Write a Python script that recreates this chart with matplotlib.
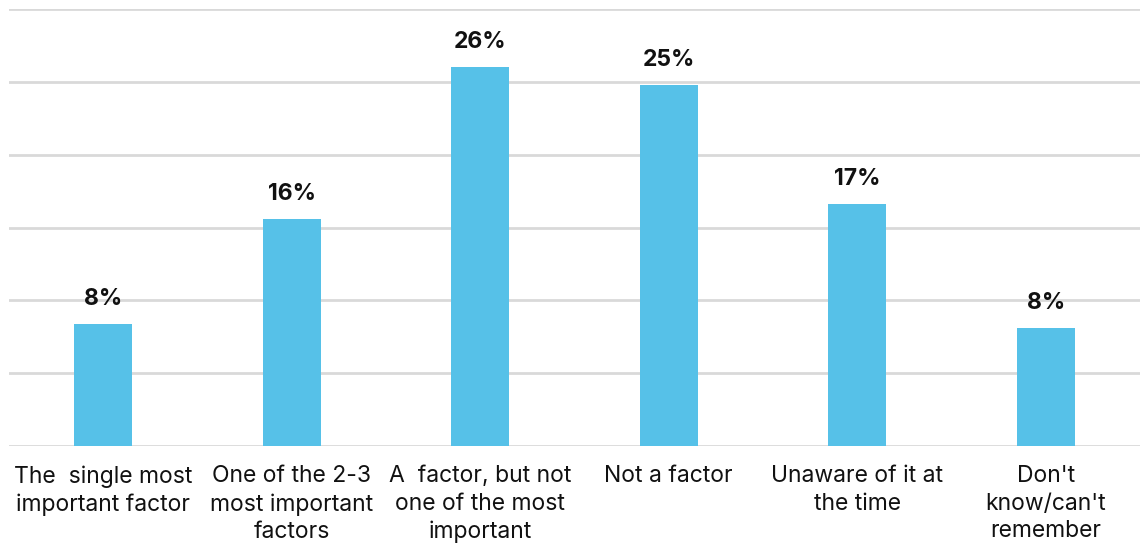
import matplotlib
matplotlib.use("Agg")
import matplotlib.pyplot as plt

categories = ["The  single most\nimportant factor", "One of the 2-3\nmost important\nfactors",
              "A  factor, but not\none of the most\nimportant", "Not a factor",
              "Unaware of it at\nthe time", "Don't\nknow/can't\nremember"]
values = [8.4, 15.6, 26.0, 24.8, 16.6, 8.1]
value_labels = ["8%", "16%", "26%", "25%", "17%", "8%"]
yticks = [0, 5, 10, 15, 20, 25, 30]

plt.rcParams['font.family'] = ['Inter', 'DejaVu Sans']

fig = plt.figure(figsize=(11.4, 5.45), dpi=100)
ax = fig.add_axes([9/1140, 1 - 446/545, 1131/1140, 437/545])
x = range(len(categories))
ax.bar(x, values, width=0.31, color="#56C1E8", zorder=3)
ax.set_xlim(-0.5, len(categories) - 0.5)
ax.set_ylim(0, 30)
ax.set_yticks(yticks)
ax.yaxis.grid(True, color="#D9D9D9", linewidth=2, zorder=0)
ax.tick_params(left=False, bottom=False, labelleft=False, labelbottom=False)
for s in ax.spines.values():
    s.set_visible(False)

for xi, v, lab in zip(x, values, value_labels):
    ax.annotate(lab, (xi, v), xytext=(0, 10), textcoords="offset points",
                ha="center", va="bottom", fontsize=16.5, fontweight="bold", color="#111111")

for xi, c in zip(x, categories):
    ax.annotate(c, (xi, 0), xytext=(0, -14), textcoords="offset points",
                ha="center", va="top", fontsize=16.5, color="#111111", linespacing=1.32,
                annotation_clip=False)

fig.savefig("out.png", dpi=100)
